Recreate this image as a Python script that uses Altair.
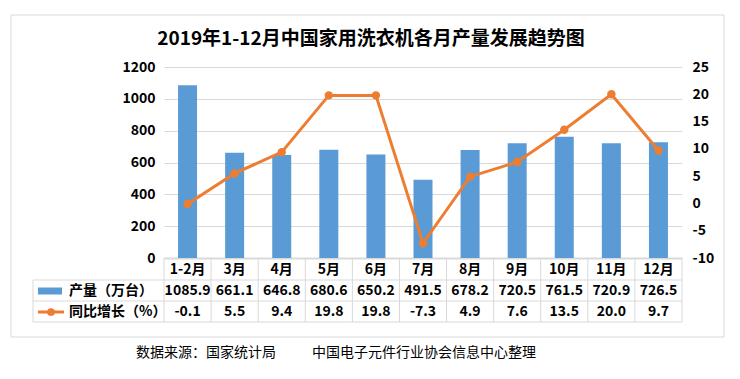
import altair as alt
import pandas as pd

months = ["1-2月", "3月", "4月", "5月", "6月", "7月", "8月", "9月", "10月", "11月", "12月"]
production = [1085.9, 661.1, 646.8, 680.6, 650.2, 491.5, 678.2, 720.5, 761.5, 720.9, 726.5]
growth = [-0.1, 5.5, 9.4, 19.8, 19.8, -7.3, 4.9, 7.6, 13.5, 20.0, 9.7]
left_ticks = [0, 200, 400, 600, 800, 1000, 1200]
right_ticks = [-10, -5, 0, 5, 10, 15, 20, 25]

title_text = "2019年1-12月中国家用洗衣机各月产量发展趋势图"
source_left = "数据来源：国家统计局"
source_right = "中国电子元件行业协会信息中心整理"
legend_bar = "产量（万台）"
legend_line = "同比增长（%）"

BLUE = "#5B9BD5"
ORANGE = "#ED7D31"
GRID = "#d9d9d9"
FONT = "Noto Sans CJK SC"

df = pd.DataFrame({"month": months, "production": production, "growth": growth})
df["prod_label"] = [f"{v:.1f}" for v in production]
df["growth_label"] = [f"{v:.1f}" for v in growth]

W, H = 518, 191

x_enc = alt.X(
    "month:N", sort=months,
    scale=alt.Scale(paddingInner=0, paddingOuter=0),
    axis=alt.Axis(title=None, labelAngle=0, ticks=False, tickSize=0, grid=False,
                  domainColor=GRID, domainWidth=2, labelPadding=11, labelBaseline="middle",
                  labelFont=FONT, labelFontSize=14, labelFontWeight="bold", labelColor="#000"),
)

base = alt.Chart(df)

bars = base.mark_bar(size=19, color=BLUE).encode(
    x=x_enc,
    y=alt.Y("production:Q", scale=alt.Scale(domain=[0, 1200], nice=False),
            axis=alt.Axis(title=None, values=left_ticks, format="d", grid=True, gridColor=GRID,
                          domain=False, ticks=False, labelPadding=9, orient="left",
                          labelFont=FONT, labelFontSize=14, labelFontWeight="bold",
                          labelColor="#000")),
)

line = base.mark_line(color=ORANGE, strokeWidth=3,
                      point=alt.OverlayMarkDef(size=70, filled=True, color=ORANGE, opacity=1)).encode(
    x=alt.X("month:N", sort=months),
    y=alt.Y("growth:Q", scale=alt.Scale(domain=[-10, 25], nice=False),
            axis=alt.Axis(title=None, values=right_ticks, grid=False, domain=False,
                          ticks=False, labelPadding=10, orient="right",
                          labelExpr="datum.value < 0 ? '-' + abs(datum.value) : '' + datum.value",
                          labelFont=FONT, labelFontSize=14, labelFontWeight="bold",
                          labelColor="#000")),
)

one = alt.Data(values=[{"k": 1}])


def hrule(x1, x2, y):
    return alt.Chart(one).mark_rule(color=GRID, strokeWidth=1).encode(
        x=alt.value(x1), x2=alt.value(x2), y=alt.value(y))


def vrule(x, y1, y2):
    return alt.Chart(one).mark_rule(color=GRID, strokeWidth=1).encode(
        x=alt.value(x), y=alt.value(y1), y2=alt.value(y2))


col_rules = base.mark_rule(color=GRID, strokeWidth=1).encode(
    x=alt.X("month:N", sort=months, bandPosition=0),
    y=alt.value(191), y2=alt.value(255),
)

prod_text = base.mark_text(font=FONT, fontSize=14, fontWeight="bold", color="#000",
                           baseline="middle").encode(
    x=alt.X("month:N", sort=months),
    y=alt.value(224),
    text="prod_label:N",
)
growth_text = base.mark_text(font=FONT, fontSize=14, fontWeight="bold", color="#000",
                             baseline="middle").encode(
    x=alt.X("month:N", sort=months),
    y=alt.value(245),
    text="growth_label:N",
)

leg_rect = alt.Chart(one).mark_rect(color=BLUE).encode(
    x=alt.value(-126), x2=alt.value(-102), y=alt.value(220.5), y2=alt.value(227.5))
leg_line = alt.Chart(one).mark_rule(color=ORANGE, strokeWidth=3).encode(
    x=alt.value(-126), x2=alt.value(-100), y=alt.value(245))
leg_pt = alt.Chart(one).mark_point(color=ORANGE, filled=True, size=60, opacity=1).encode(
    x=alt.value(-113), y=alt.value(245))
leg_t1 = alt.Chart(one).mark_text(text=legend_bar, font=FONT, fontSize=14, fontWeight="bold",
                                  color="#000", align="left", baseline="middle").encode(
    x=alt.value(-95), y=alt.value(224))
leg_t2 = alt.Chart(one).mark_text(text=legend_line, font=FONT, fontSize=14, fontWeight="bold",
                                  color="#000", align="left", baseline="middle").encode(
    x=alt.value(-95), y=alt.value(245))

src1 = alt.Chart(one).mark_text(text=source_left, font=FONT, fontSize=14, color="#000",
                                align="left", baseline="middle").encode(
    x=alt.value(-28), y=alt.value(286))
src2 = alt.Chart(one).mark_text(text=source_right, font=FONT, fontSize=14, color="#000",
                                align="left", baseline="middle").encode(
    x=alt.value(148), y=alt.value(286))

border = alt.Chart(one).mark_rect(fillOpacity=0, stroke=GRID, strokeWidth=1).encode(
    x=alt.value(-153), x2=alt.value(560), y=alt.value(-52), y2=alt.value(270))

main = alt.layer(bars, line).resolve_scale(y="independent")

chart = alt.layer(
    border,
    main,
    col_rules,
    vrule(W, 191, 255),
    vrule(-131, 213, 255),
    hrule(-131, W, 213),
    hrule(-131, W, 234),
    hrule(-131, W, 255),
    prod_text, growth_text,
    leg_rect, leg_line, leg_pt, leg_t1, leg_t2,
    src1, src2,
).properties(
    width=W, height=H,
    title=alt.TitleParams(title_text, font=FONT, fontSize=19, fontWeight="bold",
                          color="#000", anchor="middle", frame="group", dx=-52, offset=-34),
    autosize=alt.AutoSizeParams(type="none"),
    padding={"left": 156, "top": 59, "right": 50, "bottom": 110},
).configure_view(stroke=None)

chart.save("out.html", embed_options={"renderer": "svg", "actions": False})
